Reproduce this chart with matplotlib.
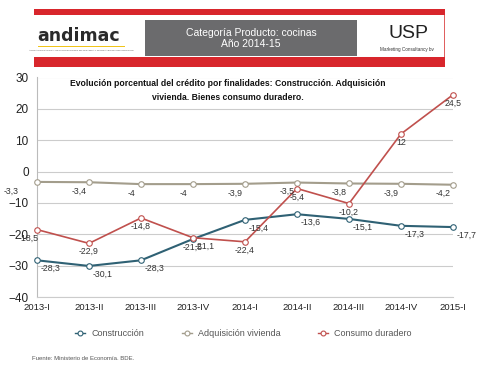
import matplotlib.pyplot as plt
from matplotlib.lines import Line2D
from matplotlib.patches import Rectangle

# data
periods = ["2013-I", "2013-II", "2013-III", "2013-IV", "2014-I",
           "2014-II", "2014-III", "2014-IV", "2015-I"]
construccion = [-28.3, -30.1, -28.3, -21.5, -15.4, -13.6, -15.1, -17.3, -17.7]
adquisicion = [-3.3, -3.4, -4, -4, -3.9, -3.5, -3.8, -3.9, -4.2]
consumo = [-18.5, -22.9, -14.8, -21.1, -22.4, -5.4, -10.2, 12, 24.5]

c_cons = "#2f6174"
c_adq = "#a39d8c"
c_dur = "#c0504d"

W, H = 482, 374
plt.rcParams['font.family'] = ['Liberation Sans', 'DejaVu Sans']
fig = plt.figure(figsize=(W / 100, H / 100), dpi=100)


def px(x, y):
    return x / W, 1 - y / H


# header band
for y0, y1 in [(9, 15), (57, 67)]:
    fig.patches.append(Rectangle(px(34, y1), 411 / W, (y1 - y0) / H,
                                 transform=fig.transFigure, color="#d8262c", lw=0))
fig.patches.append(Rectangle(px(444, 57), 1.2 / W, 42 / H,
                             transform=fig.transFigure, color="#e06060", lw=0))
fig.patches.append(Rectangle(px(145, 56), 212 / W, 36 / H,
                             transform=fig.transFigure, color="#6b6b6d", lw=0))
fig.text(*px(251, 33), "Categoría Producto: cocinas", color="white",
         fontsize=7.5, ha="center", va="center")
fig.text(*px(251, 44), "Año 2014-15", color="white",
         fontsize=7.5, ha="center", va="center")

# andimac logo
fig.text(*px(37, 36), "andimac", family="DejaVu Sans", fontweight="bold",
         fontsize=12.5, color="#2b2b2b", ha="left", va="center")
fig.patches.append(Rectangle(px(38, 46.5), 87 / W, 0.8 / H,
                             transform=fig.transFigure, color="#f0c419", lw=0))
fig.text(*px(81, 50), "ASOCIACIÓN NACIONAL DE DISTRIBUIDORES DE CERÁMICA Y MATERIALES DE CONSTRUCCIÓN",
         fontsize=1.6, color="#555555", ha="center", va="center")

# USP logo
fig.text(*px(408, 34), "USP", fontsize=14, color="#222222",
         ha="center", va="center", fontweight="light")
fig.text(*px(407, 49), "Marketing Consultancy bv", fontsize=3.3,
         color="#333333", ha="center", va="center")

# chart
ax = fig.add_axes([37 / W, 1 - 297 / H, 416 / W, 219.5 / H])
x = list(range(len(periods)))
mk = dict(marker="o", markersize=4, markerfacecolor="white",
          markeredgewidth=0.8, clip_on=False, zorder=3)
ax.plot(x, construccion, color=c_cons, lw=1.5, **mk)
ax.plot(x, adquisicion, color=c_adq, lw=1.5, **mk)
ax.plot(x, consumo, color=c_dur, lw=1.2, **mk)

ax.set_xlim(0, 8)
ax.set_ylim(-40, 30)
ax.set_yticks(range(-40, 31, 10))
ax.set_xticks(x)
ax.set_xticklabels(periods)
ax.grid(axis="y", color="#cccccc", lw=0.8)
ax.set_axisbelow(True)
for s in ["top", "right"]:
    ax.spines[s].set_visible(False)
ax.spines["left"].set_color("#bbbbbb")
ax.spines["bottom"].set_color("#cccccc")
ax.tick_params(axis="y", length=0, pad=6, labelsize=8.5, labelcolor="#222222")
ax.tick_params(axis="x", length=0, pad=4, labelsize=6.8, labelcolor="#222222")


def fmt(v):
    return ("%g" % v).replace(".", ",")


lab = dict(fontsize=6.3, color="#333333", textcoords="offset points",
           ha="center", va="center", annotation_clip=False, zorder=4)
for i, v in enumerate(construccion):
    dx = 0 if i == 3 else 9.5
    ax.annotate(fmt(v), (i, v), xytext=(dx, -6), **lab)
for i, v in enumerate(adquisicion):
    dx = -19 if i == 0 else -7
    ax.annotate(fmt(v), (i, v), xytext=(dx, -6.5), **lab)
for i, v in enumerate(consumo):
    dx = {0: -6, 3: 8.5}.get(i, 0)
    ax.annotate(fmt(v), (i, v), xytext=(dx, -6), **lab)

fig.text(*px(228, 83), "Evolución porcentual del crédito por finalidades: Construcción. Adquisición",
         fontsize=6.2, fontweight="bold", ha="center", va="center", color="#111111")
fig.text(*px(228, 98), "vivienda. Bienes consumo duradero.",
         fontsize=6.2, fontweight="bold", ha="center", va="center", color="#111111")

# legend
names = ["Construcción", "Adquisición vivienda", "Consumo duradero"]
for (hx, tx), c, n in zip([(80, 91), (187, 198), (323, 334)],
                          (c_cons, c_adq, c_dur), names):
    fig.lines.append(Line2D([(hx - 5) / W, (hx + 5) / W], [1 - 333 / H] * 2,
                            transform=fig.transFigure, color=c, lw=1.0))
    fig.lines.append(Line2D([hx / W], [1 - 333 / H], transform=fig.transFigure,
                            marker="o", markersize=3.5, markerfacecolor="white",
                            markeredgecolor=c, markeredgewidth=0.8))
    fig.text(*px(tx, 333), n, fontsize=6.5, color="#555555", ha="left", va="center")

fig.text(*px(32, 359), "Fuente: Ministerio de Economía. BDE.", fontsize=4.3,
         color="#555555", ha="left", va="center")

fig.savefig("out.png", dpi=100, facecolor="white")
